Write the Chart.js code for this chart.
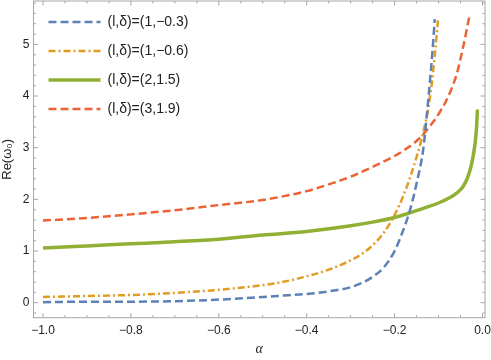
<!DOCTYPE html>
<html>
<head>
<meta charset="utf-8">
<script src="https://cdn.jsdelivr.net/npm/chart.js@4.4.1/dist/chart.umd.min.js"></script>
<style>
  html, body { margin: 0; padding: 0; background: #fff; }
</style>
</head>
<body>
<canvas id="reChart" width="491" height="360"></canvas>
<script>
const seriesLabels = ['(l,δ)=(1,−0.3)', '(l,δ)=(1,−0.6)', '(l,δ)=(2,1.5)', '(l,δ)=(3,1.9)'];

const blueAlpha = [-1.0, -0.9, -0.8, -0.7, -0.6, -0.5, -0.45, -0.4, -0.35, -0.3, -0.27, -0.25, -0.225, -0.2, -0.185, -0.165, -0.15, -0.135, -0.127, -0.12, -0.114, -0.1085];
const blueRe = [0.01, 0.02, 0.02, 0.03, 0.06, 0.11, 0.14, 0.17, 0.22, 0.30, 0.40, 0.50, 0.68, 1.00, 1.30, 1.79, 2.31, 2.96, 3.60, 4.25, 4.85, 5.49];

const orangeAlpha = [-1.0, -0.9, -0.8, -0.7, -0.6, -0.5, -0.45, -0.4, -0.35, -0.3, -0.27, -0.25, -0.225, -0.2, -0.18, -0.165, -0.15, -0.14, -0.132, -0.124, -0.116, -0.1085, -0.101];
const orangeRe = [0.11, 0.13, 0.15, 0.19, 0.25, 0.34, 0.41, 0.51, 0.64, 0.82, 0.97, 1.11, 1.35, 1.70, 2.07, 2.42, 2.82, 3.12, 3.40, 3.73, 4.20, 4.80, 5.49];

const greenAlpha = [-1.0, -0.9, -0.8, -0.7, -0.6, -0.5, -0.4, -0.3, -0.25, -0.2, -0.165, -0.13, -0.1, -0.075, -0.059, -0.045, -0.036, -0.03, -0.025, -0.02, -0.016, -0.0135, -0.0115];
const greenRe = [1.06, 1.10, 1.14, 1.18, 1.23, 1.31, 1.38, 1.49, 1.56, 1.65, 1.74, 1.84, 1.93, 2.03, 2.12, 2.24, 2.38, 2.52, 2.68, 2.90, 3.15, 3.40, 3.74];

const redAlpha = [-1.0, -0.9, -0.8, -0.7, -0.6, -0.5, -0.4, -0.35, -0.3, -0.25, -0.2, -0.175, -0.15, -0.135, -0.115, -0.1, -0.078, -0.059, -0.044, -0.03];
const redRe = [1.59, 1.64, 1.71, 1.79, 1.89, 1.99, 2.16, 2.29, 2.44, 2.63, 2.84, 2.97, 3.13, 3.26, 3.47, 3.65, 3.99, 4.42, 4.95, 5.54];

const xTickValues = [-1.0, -0.8, -0.6, -0.4, -0.2, 0.0];
const xTickLabels = ['−1.0', '−0.8', '−0.6', '−0.4', '−0.2', '0.0'];
const yTickValues = [0, 1, 2, 3, 4, 5];
const yTickLabels = ['0', '1', '2', '3', '4', '5'];

const toPoints = (xs, ys) => xs.map((x, i) => ({ x: x, y: ys[i] }));

// Mathematica-style frame with inward ticks on all four sides
const framePlugin = {
  id: 'frame',
  beforeDatasetsDraw(chart) {
    const { ctx, chartArea: a, scales: { x, y } } = chart;
    ctx.save();
    ctx.strokeStyle = '#a6a6a6';
    ctx.lineWidth = 1;
    ctx.strokeRect(a.left, a.top, a.right - a.left, a.bottom - a.top);
    const tick = (x1, y1, x2, y2) => { ctx.beginPath(); ctx.moveTo(x1, y1); ctx.lineTo(x2, y2); ctx.stroke(); };
    for (let i = 0; i <= 20; i++) {
      const v = -1 + i * 0.05;
      const px = x.getPixelForValue(v);
      const len = i % 4 === 0 ? 4.5 : 2.5;
      tick(px, a.bottom, px, a.bottom - len);
      tick(px, a.top, px, a.top + len);
    }
    for (let i = -1; i <= 29; i++) {
      const v = i * 0.2;
      const py = y.getPixelForValue(v);
      if (py < a.top || py > a.bottom) continue;
      const len = i % 5 === 0 ? 4.5 : 2.5;
      tick(a.left, py, a.left + len, py);
      tick(a.right, py, a.right - len, py);
    }
    ctx.restore();
  }
};

const ctx = document.getElementById('reChart').getContext('2d');
const reChart = new Chart(ctx, {
  type: 'line',
  data: {
    datasets: [
      {
        label: seriesLabels[0],
        data: toPoints(blueAlpha, blueRe),
        borderColor: '#5e81b5',
        borderWidth: 2.5,
        borderDash: [8, 4],
      },
      {
        label: seriesLabels[1],
        data: toPoints(orangeAlpha, orangeRe),
        borderColor: '#e19c24',
        borderWidth: 2.5,
        borderDash: [7, 3, 2, 3],
      },
      {
        label: seriesLabels[2],
        data: toPoints(greenAlpha, greenRe),
        borderColor: '#8fb032',
        borderWidth: 3.5,
      },
      {
        label: seriesLabels[3],
        data: toPoints(redAlpha, redRe),
        borderColor: '#eb6235',
        borderWidth: 2.5,
        borderDash: [8, 4],
      }
    ]
  },
  options: {
    responsive: false,
    animation: false,
    devicePixelRatio: 1,
    layout: { padding: { top: 1, right: 6, left: 0, bottom: 0 } },
    elements: {
      point: { radius: 0 },
      line: { fill: false, cubicInterpolationMode: 'monotone' }
    },
    plugins: {
      tooltip: { enabled: false },
      legend: {
        position: 'chartArea',
        align: 'start',
        labels: {
          usePointStyle: true,
          pointStyle: 'line',
          pointStyleWidth: 52,
          padding: 15,
          color: '#222',
          font: { family: 'Liberation Sans, Arial, sans-serif', size: 14 },
          generateLabels: (chart) => {
            const items = Chart.defaults.plugins.legend.labels.generateLabels(chart);
            items.forEach((item) => {
              const ds = chart.data.datasets[item.datasetIndex];
              item.lineDash = ds.borderDash || [];
              item.lineWidth = ds.borderWidth;
              item.strokeStyle = ds.borderColor;
            });
            return items;
          }
        }
      }
    },
    scales: {
      x: {
        type: 'linear',
        min: -1.0216,
        max: 0.0057,
        afterBuildTicks: (scale) => { scale.ticks = xTickValues.map((v) => ({ value: v })); },
        afterFit: (scale) => { scale.height = 42.3; scale.paddingLeft = 0; scale.paddingRight = 0; },
        grid: { display: false, drawTicks: false },
        border: { display: false },
        ticks: {
          padding: 6,
          maxRotation: 0,
          color: '#222',
          font: { family: 'Liberation Sans, Arial, sans-serif', size: 12 },
          callback: (value, index) => xTickLabels[index]
        },
        title: {
          display: true,
          text: 'α',
          color: '#222',
          padding: { top: 0, bottom: 2 },
          font: { family: 'Liberation Serif, serif', size: 14, style: 'italic' }
        }
      },
      y: {
        type: 'linear',
        min: -0.29,
        max: 5.84,
        afterBuildTicks: (scale) => { scale.ticks = yTickValues.map((v) => ({ value: v })); },
        afterFit: (scale) => { scale.width = 33.5; scale.paddingTop = 0; scale.paddingBottom = 0; },
        grid: { display: false, drawTicks: false },
        border: { display: false },
        ticks: {
          padding: 4,
          color: '#222',
          font: { family: 'Liberation Sans, Arial, sans-serif', size: 12 },
          callback: (value, index) => yTickLabels[index]
        },
        title: {
          display: true,
          text: 'Re(ω₀)',
          color: '#222',
          padding: { top: 0, bottom: 0 },
          font: { family: 'Liberation Sans, Arial, sans-serif', size: 13 }
        }
      }
    }
  },
  plugins: [framePlugin]
});
</script>
</body>
</html>
